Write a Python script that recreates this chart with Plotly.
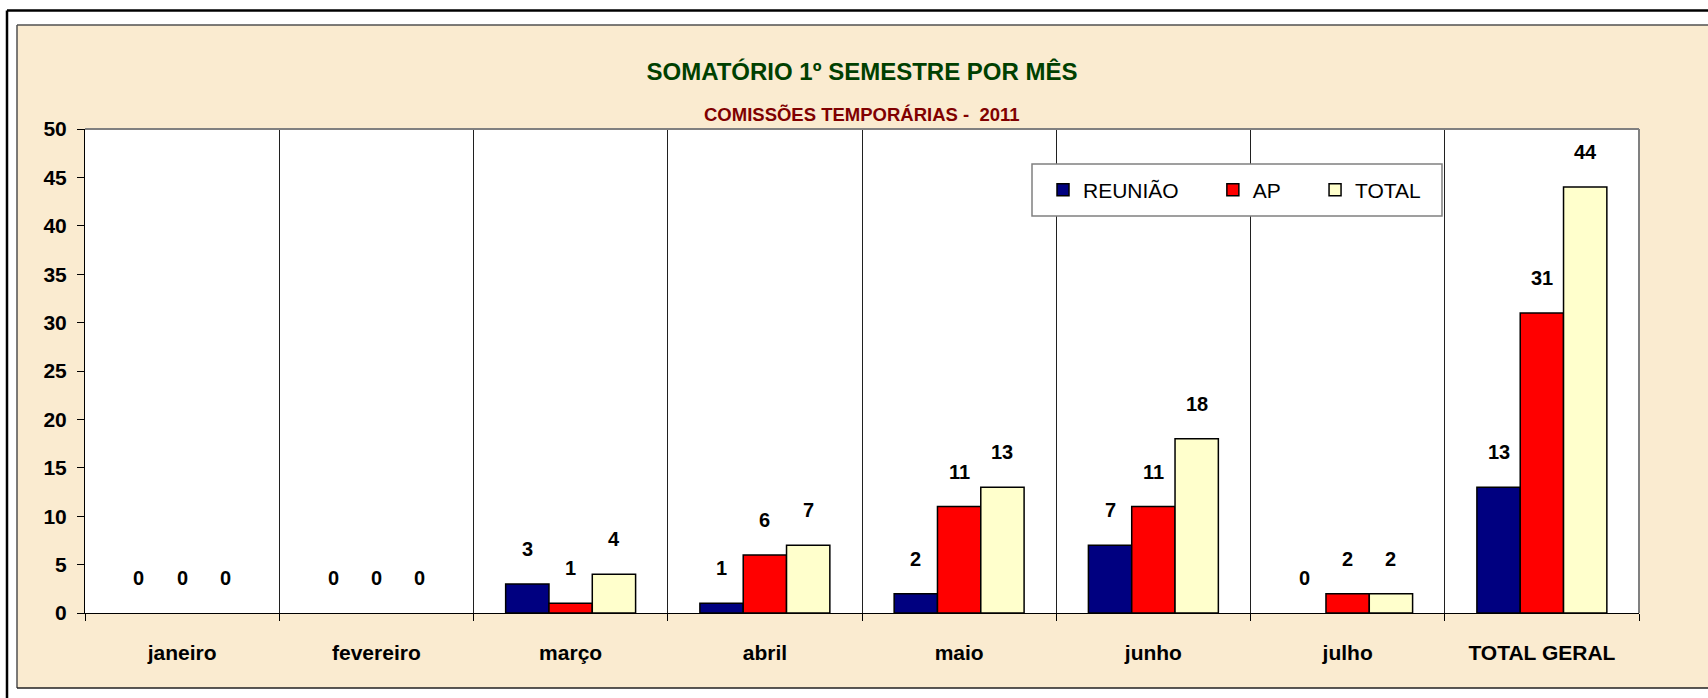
import plotly.graph_objects as go

# ---- data ----
categories = ["janeiro", "fevereiro", "março", "abril", "maio", "junho", "julho", "TOTAL GERAL"]
reuniao = [0, 0, 3, 1, 2, 7, 0, 13]
ap = [0, 0, 1, 6, 11, 11, 2, 31]
total = [0, 0, 4, 7, 13, 18, 2, 44]
series_names = ["REUNIÃO", "AP", "TOTAL"]
y_ticks = [0, 5, 10, 15, 20, 25, 30, 35, 40, 45, 50]

# ---- layout geometry (pixels) ----
W, H = 1708, 698
L, R, T, B = 85, 69, 129, 85
PW = W - L - R
PH = H - T - B

def px(xp):
    return (xp - L) / PW

def py(yp):
    return (H - B - yp) / PH

NARROW = "Liberation Sans Narrow, Arial Narrow, Liberation Sans, Arial, sans-serif"
SANS = "Liberation Sans, Arial, sans-serif"

colors = ["#000080", "#FF0000", "#FFFFCC"]
values = [reuniao, ap, total]
pad = "\u00a0" * 5

fig = go.Figure()
for name, vals, col in zip(series_names, values, colors):
    # zero values have no visible bar (only their label), as in the original
    fig.add_trace(go.Bar(
        x=categories, y=[v if v != 0 else None for v in vals], name=name + pad,
        marker=dict(color=col, line=dict(color="black", width=1.5)),
        hoverinfo="x+y",
    ))

bargap = 0.331
slot = PW / len(categories)
bw = slot * (1 - bargap) / 3
annotations = []
for i, vals in enumerate(values):
    for c, v in zip(categories, vals):
        annotations.append(dict(
            x=c, y=v, xref="x", yref="y", text="<b>%d</b>" % v,
            showarrow=False, xshift=(i - 1) * bw, yshift=35,
            yanchor="middle", font=dict(family=NARROW, size=20, color="black"),
        ))

annotations.append(dict(
    x=0.5, y=py(114), xref="paper", yref="paper", showarrow=False,
    text="<b>COMISSÕES TEMPORÁRIAS -  2011</b>", yanchor="middle",
    font=dict(family=SANS, size=18.5, color="#800000"),
))

shapes = [
    # white outer strips
    dict(type="rect", xref="paper", yref="paper", x0=px(-5), x1=px(17), y0=py(H + 5), y1=py(-5),
         fillcolor="white", line=dict(width=0), layer="above"),
    dict(type="rect", xref="paper", yref="paper", x0=px(-5), x1=px(W + 5), y0=py(25), y1=py(-5),
         fillcolor="white", line=dict(width=0), layer="above"),
    dict(type="rect", xref="paper", yref="paper", x0=px(-5), x1=px(W + 5), y0=py(H + 5), y1=py(688),
         fillcolor="white", line=dict(width=0), layer="above"),
    # textured panel border
    dict(type="line", xref="paper", yref="paper", x0=px(17), x1=px(W + 5), y0=py(25), y1=py(25),
         line=dict(color="#505050", width=1.5), layer="above"),
    dict(type="line", xref="paper", yref="paper", x0=px(17), x1=px(17), y0=py(25), y1=py(688),
         line=dict(color="#505050", width=1.5), layer="above"),
    dict(type="line", xref="paper", yref="paper", x0=px(17), x1=px(W + 5), y0=py(688), y1=py(688),
         line=dict(color="#202020", width=1.5), layer="above"),
    # outer black frame
    dict(type="line", xref="paper", yref="paper", x0=px(7), x1=px(W + 5), y0=py(10.5), y1=py(10.5),
         line=dict(color="black", width=2.5), layer="above"),
    dict(type="line", xref="paper", yref="paper", x0=px(7), x1=px(7), y0=py(10.5), y1=py(H + 5),
         line=dict(color="black", width=2.5), layer="above"),
    # plot area border (top, right)
    dict(type="line", xref="paper", yref="paper", x0=0, x1=1, y0=1, y1=1,
         line=dict(color="#808080", width=2), layer="above"),
    dict(type="line", xref="paper", yref="paper", x0=1, x1=1, y0=0, y1=1,
         line=dict(color="#808080", width=2), layer="above"),
    # legend frame
    dict(type="rect", xref="paper", yref="paper", x0=px(1032), x1=px(1442), y0=py(216), y1=py(164),
         fillcolor="white", line=dict(color="#808080", width=1.5), layer="above"),
]

fig.update_layout(
    width=W, height=H,
    margin=dict(l=L, r=R, t=T, b=B, pad=0),
    paper_bgcolor="#FAEBD0",
    plot_bgcolor="white",
    barmode="group", bargap=bargap, bargroupgap=0,
    title=dict(
        text="<b>SOMATÓRIO 1º SEMESTRE POR MÊS</b>",
        x=0.5, xref="paper", xanchor="center",
        y=1 - 72 / H, yref="container", yanchor="middle",
        font=dict(family=NARROW, size=24, color="#004000"),
    ),
    legend=dict(
        orientation="h", x=px(1043), xanchor="left", y=py(190), yanchor="middle",
        bgcolor="rgba(0,0,0,0)", borderwidth=0,
        font=dict(family=SANS, size=21, color="black"),
        traceorder="normal",
    ),
    xaxis=dict(
        type="category", categoryorder="array", categoryarray=categories,
        showline=True, linecolor="black", linewidth=1,
        ticks="outside", ticklen=7, tickcolor="black", tickson="boundaries",
        showgrid=True, gridcolor="#202020", gridwidth=1,
        tickfont=dict(family=SANS, size=21, color="black"),
        ticklabelstandoff=21,
    ),
    yaxis=dict(
        range=[0, 50], tickvals=y_ticks, ticktext=["<b>%d</b>" % t for t in y_ticks],
        showline=True, linecolor="black", linewidth=1,
        ticks="outside", ticklen=7, tickcolor="black",
        showgrid=False, zeroline=False,
        tickfont=dict(family=NARROW, size=21, color="black"),
        ticklabelstandoff=6,
    ),
    annotations=annotations,
    shapes=shapes,
)
fig.update_xaxes(ticktext=["<b>%s</b>" % c for c in categories], tickvals=categories)

fig.write_html("out.html", config={"displayModeBar": False},
               post_script="document.body.style.margin='0';")
